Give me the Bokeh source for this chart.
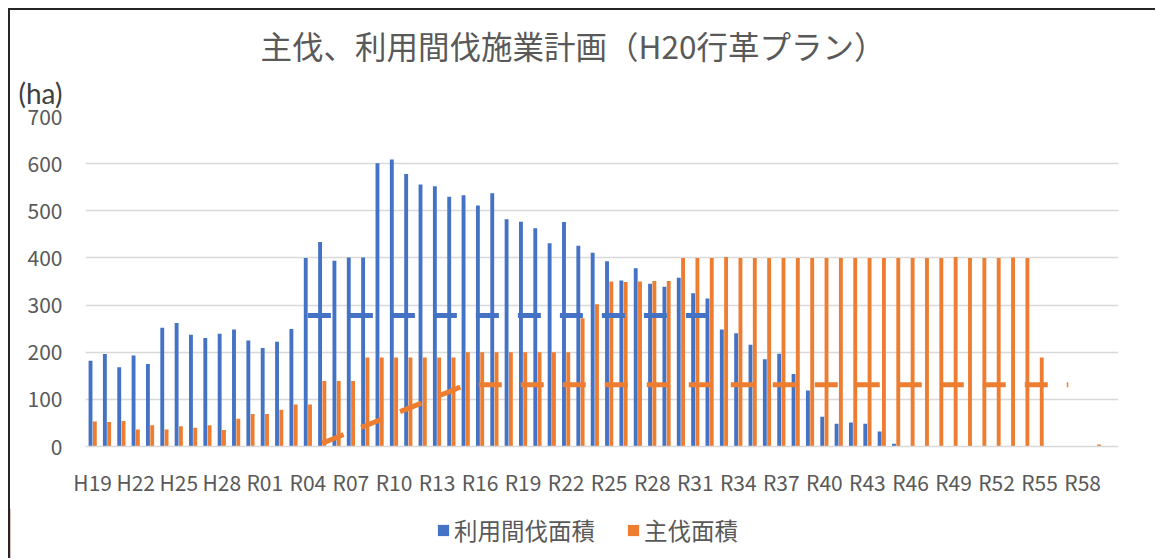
from bokeh.plotting import figure
from bokeh.layouts import column
from bokeh.models import (ColumnDataSource, Range1d, FixedTicker, Title, Legend,
                          LegendItem)
from bokeh.transform import dodge
from bokeh.embed import file_html
from bokeh.resources import INLINE

# ---------------- data ----------------
categories = ["H19", "H20", "H21", "H22", "H23", "H24", "H25", "H26", "H27", "H28",
              "H29", "H30",
              "R01", "R02", "R03", "R04", "R05", "R06", "R07", "R08", "R09", "R10",
              "R11", "R12", "R13", "R14", "R15", "R16", "R17", "R18", "R19", "R20",
              "R21", "R22", "R23", "R24", "R25", "R26", "R27", "R28", "R29", "R30",
              "R31", "R32", "R33", "R34", "R35", "R36", "R37", "R38", "R39", "R40",
              "R41", "R42", "R43", "R44", "R45", "R46", "R47", "R48", "R49", "R50",
              "R51", "R52", "R53", "R54", "R55", "R56", "R57", "R58", "R59", "R60"]

tick_labels = ["H19", "H22", "H25", "H28", "R01", "R04", "R07", "R10", "R13", "R16",
               "R19", "R22", "R25", "R28", "R31", "R34", "R37", "R40", "R43", "R46",
               "R49", "R52", "R55", "R58"]

# 利用間伐面積 (ha)
thinning_area = [182, 196, 168, 193, 175, 252, 262, 237, 230, 239,
                 248, 225,
                 209, 222, 249, 400, 434, 394, 401, 401, 601, 609,
                 578, 556, 552, 530, 533, 511, 537, 482, 477, 463,
                 431, 476, 426, 411, 393, 352, 378, 345, 339, 358,
                 325, 314, 248, 240, 216, 185, 197, 154, 119, 63,
                 48, 51, 48, 32, 6, 0, 0, 0, 0, 0,
                 0, 0, 0, 0, 0, 0, 0, 0, 0, 0]

# 主伐面積 (ha)
final_cut_area = [53, 52, 54, 36, 45, 36, 43, 40, 45, 35,
                  59, 69,
                  69, 78, 89, 89, 139, 139, 139, 189, 189, 189,
                  189, 189, 189, 189, 200, 200, 200, 200, 200, 200,
                  200, 200, 272, 302, 350, 349, 350, 351, 351, 400,
                  400, 400, 402, 400, 400, 400, 400, 400, 400, 400,
                  400, 400, 400, 400, 400, 400, 400, 400, 402, 400,
                  400, 400, 401, 400, 189, 0, 0, 0, 4, 1]

# dashed plan lines
thinning_plan_start = "R04"
thinning_plan = [278, 278, 278, 278, 278, 278, 278, 278, 278, 278,
                 278, 278, 278, 278, 278, 278, 278, 278, 278, 278,
                 278, 278, 278, 278, 278, 278, 278, 278, 278]

final_cut_plan_start = "R05"
final_cut_plan = [7, 19, 32, 44, 56, 69, 81, 93, 106, 118,
                  131, 131, 131, 131, 131, 131, 131, 131, 131, 131,
                  131, 131, 131, 131, 131, 131, 131, 131, 131, 131,
                  131, 131, 131, 131, 131, 131, 131, 131, 131, 131,
                  131, 131, 131, 131, 131, 131, 131, 131, 131, 131,
                  131, 131, 131]

title_text = "主伐、利用間伐施業計画（H20行革プラン）"
unit_text = "(ha)"
series_names = ["利用間伐面積", "主伐面積"]

# ---------------- styling ----------------
BLUE = "#4472C4"
ORANGE = "#ED7D31"
TEXT = "#595959"
GRID = "#D9D9D9"
FONT = "Noto Sans CJK JP"
BORDER = "2px solid #262626"
W = 1147
MAIN_H, BOT_H = 500, 50

# ---- main chart ----
idx = list(range(len(categories)))
src = ColumnDataSource(dict(idx=idx, cat=categories,
                            thin=thinning_area, cut=final_cut_area))

p = figure(width=W, height=MAIN_H,
           x_range=Range1d(-0.5, len(categories) - 0.5),
           y_range=Range1d(0, 700),
           output_backend="svg", toolbar_location=None,
           min_border_left=75, min_border_right=39,
           min_border_top=106, min_border_bottom=64)
p.frame_align = False
p.styles = {"border-left": BORDER, "border-top": BORDER}
p.outline_line_color = None
p.background_fill_color = "white"
p.border_fill_color = "white"

# main title (outer) and unit label (next to the frame)
p.title.text = title_text
p.title.align = "left"
p.title.offset = 175
p.title.standoff = 0
p.title.text_font = FONT
p.title.text_font_size = "31.5px"
p.title.text_font_style = "normal"
p.title.text_color = TEXT

p.add_layout(Title(text=unit_text, align="left", offset=-67, standoff=13,
                   text_font="Lato", text_font_size="28px",
                   text_font_style="normal", text_color="#404040"), "above")

r_thin = p.vbar(x=dodge("idx", -0.15, range=p.x_range), top="thin", width=0.27,
                source=src, fill_color=BLUE, line_color=None)
r_cut = p.vbar(x=dodge("idx", 0.15, range=p.x_range), top="cut", width=0.27,
               source=src, fill_color=ORANGE, line_color=None)

s0 = categories.index(thinning_plan_start)
p.line(x=[s0 + k for k in range(len(thinning_plan))], y=thinning_plan,
       line_color=BLUE, line_width=5, line_dash="23 19", line_cap="butt")
s1 = categories.index(final_cut_plan_start)
p.line(x=[s1 + k for k in range(len(final_cut_plan))], y=final_cut_plan,
       line_color=ORANGE, line_width=5, line_dash="23 19", line_cap="butt")

p.xaxis.ticker = FixedTicker(ticks=[categories.index(t) for t in tick_labels])
p.xaxis.major_label_overrides = {categories.index(t): t for t in tick_labels}
p.xaxis.major_tick_line_color = None
p.xaxis.major_tick_out = 0
p.xaxis.major_tick_in = 0
p.xaxis.minor_tick_line_color = None
p.xaxis.axis_line_color = GRID
p.xaxis.axis_line_width = 1.5
p.xaxis.major_label_text_font = FONT
p.xaxis.major_label_text_font_size = "21px"
p.xaxis.major_label_text_color = TEXT
p.xaxis.major_label_standoff = 20

p.yaxis.ticker = FixedTicker(ticks=[0, 100, 200, 300, 400, 500, 600, 700])
p.yaxis.major_tick_line_color = None
p.yaxis.major_tick_out = 0
p.yaxis.major_tick_in = 0
p.yaxis.minor_tick_line_color = None
p.yaxis.axis_line_color = None
p.yaxis.major_label_text_font = FONT
p.yaxis.major_label_text_font_size = "21px"
p.yaxis.major_label_text_color = TEXT
p.yaxis.major_label_standoff = 23

p.xgrid.grid_line_color = None
p.ygrid.grid_line_color = GRID
p.ygrid.grid_line_width = 1.5

# ---- bottom strip: legend ----
bot = figure(width=W, height=BOT_H, x_range=Range1d(0, 1), y_range=Range1d(0, 1),
             output_backend="svg", toolbar_location=None,
             x_axis_location=None, y_axis_location=None,
             min_border_left=0, min_border_right=0,
             min_border_top=0, min_border_bottom=0)
bot.frame_align = False
bot.grid.visible = False
bot.outline_line_color = None
bot.background_fill_color = "white"
bot.border_fill_color = "white"
bot.styles = {"border-left": BORDER}
k_thin = bot.vbar(x=[-10], top=[1], width=0.1, fill_color=BLUE, line_color=None)
k_cut = bot.vbar(x=[-10], top=[1], width=0.1, fill_color=ORANGE, line_color=None)
legend = Legend(items=[LegendItem(label=series_names[0], renderers=[k_thin]),
                       LegendItem(label=series_names[1], renderers=[k_cut])],
                orientation="horizontal", location=(426, 11),
                glyph_width=14, glyph_height=14, label_standoff=4, spacing=31,
                padding=0, margin=0, border_line_color=None,
                background_fill_alpha=0,
                label_text_font=FONT, label_text_font_size="23.5px",
                label_text_color=TEXT)
bot.add_layout(legend, "center")

page = column(p, bot, spacing=0)
page.styles = {"margin-left": "8px", "margin-top": "8px"}

open("out.html", "w").write(file_html(page, INLINE))
